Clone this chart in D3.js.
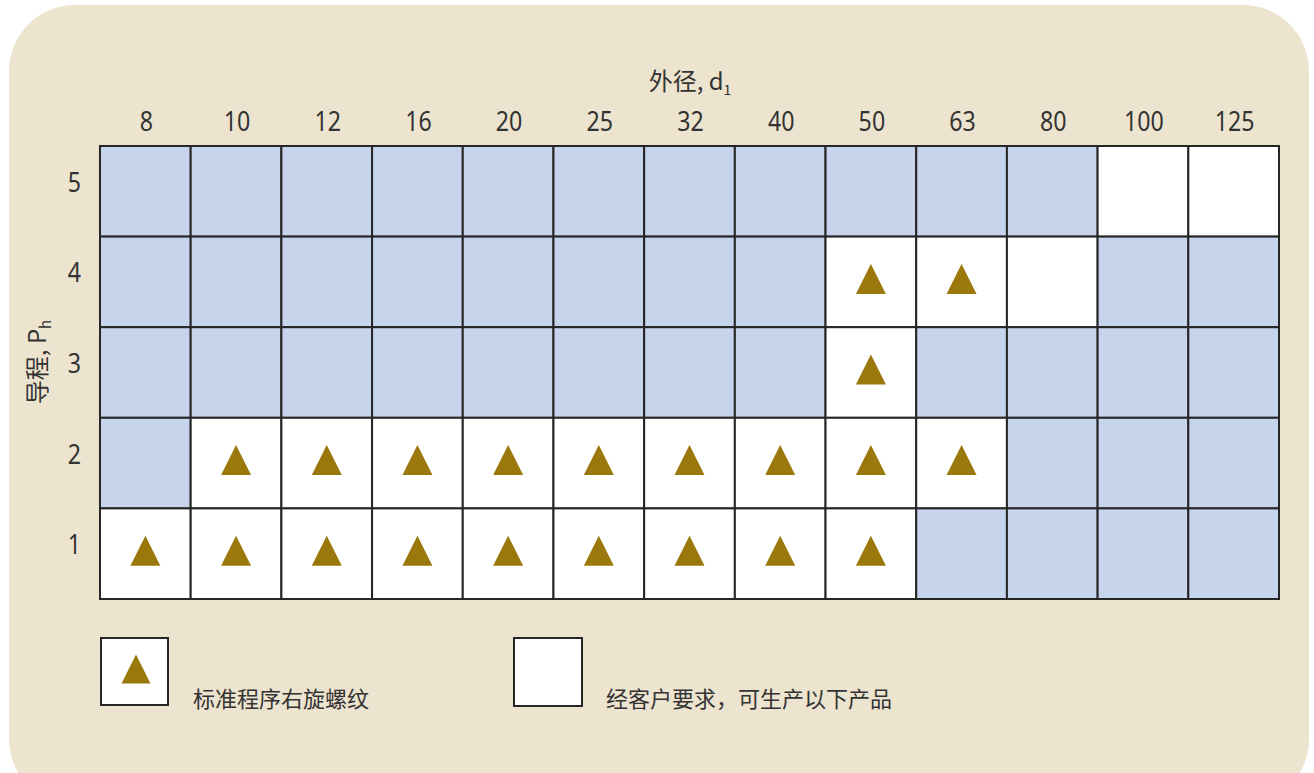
<!DOCTYPE html>
<html><head><meta charset="utf-8">
<script src="https://cdn.jsdelivr.net/npm/d3@7"></script>
<style>body{margin:0;background:#fff;}svg{display:block;}text{font-family:"Noto Sans CJK SC","Noto Sans",sans-serif;fill:#333;}</style>
</head><body>
<svg id="c" width="1314" height="773"></svg>
<script>
const diameters = ["8","10","12","16","20","25","32","40","50","63","80","100","125"];
const leads = ["5","4","3","2","1"];
// availability per lead row (left to right by diameter): 0 = blue (not available), 1 = on request (white), 2 = standard (white + triangle)
const row5 = [0,0,0,0,0,0,0,0,0,0,0,1,1];
const row4 = [0,0,0,0,0,0,0,0,2,2,1,0,0];
const row3 = [0,0,0,0,0,0,0,0,2,0,0,0,0];
const row2 = [0,2,2,2,2,2,2,2,2,2,0,0,0];
const row1 = [2,2,2,2,2,2,2,2,2,0,0,0,0];
const rows = {"5":row5,"4":row4,"3":row3,"2":row2,"1":row1};
const xTitle = "外径, d";
const yTitle = "导程, P";
const legendLabels = ["标准程序右旋螺纹","经客户要求，可生产以下产品"];

const NUMFONT = "'Noto Sans','DejaVu Sans',sans-serif";
const svg = d3.select("#c");
svg.append("rect").attr("x",9).attr("y",5).attr("width",1300).attr("height",800).attr("rx",66).attr("fill","#ede4cf");

const x = d3.scaleBand().domain(diameters).range([100,1279]);
const y = d3.scaleBand().domain(leads).range([146,599]);

const cells = [];
leads.forEach(l => diameters.forEach((d,i) => cells.push({d, l, v: rows[l][i]})));

const g = svg.append("g");
g.selectAll("rect.cell").data(cells).join("rect").attr("class","cell")
  .attr("x", c => x(c.d)).attr("y", c => y(c.l))
  .attr("width", x.bandwidth()).attr("height", y.bandwidth())
  .attr("fill", c => c.v === 0 ? "#c6d4ec" : "#ffffff")
  .attr("stroke","#262626").attr("stroke-width",2);

const tri = (cx, cy, s) => `M${cx},${cy - s/2}L${cx + s/2},${cy + s/2}L${cx - s/2},${cy + s/2}Z`;
g.selectAll("path.tri").data(cells.filter(c => c.v === 2)).join("path").attr("class","tri")
  .attr("d", c => tri(x(c.d) + x.bandwidth()/2, y(c.l) + y.bandwidth()/2 - 3, 30))
  .attr("fill","#9a780b");

// top axis
const xa = svg.append("g").attr("transform","translate(0,146)").call(d3.axisTop(x).tickSize(0).tickPadding(15));
xa.select(".domain").remove();
xa.selectAll("text").style("font-size","27px").style("font-weight","normal").attr("fill","#333").style("font-family",NUMFONT)
  .attr("y",0).attr("transform","translate(1,-15) scale(0.86,1)");

const ya = svg.append("g").attr("transform","translate(100,0)").call(d3.axisLeft(y).tickSize(0).tickPadding(19));
ya.select(".domain").remove();
ya.selectAll("text").style("font-size","27px").style("font-weight","normal").attr("fill","#333").style("font-family",NUMFONT)
  .attr("x",0).attr("dy","0.02em").attr("transform","translate(-19,0) scale(0.86,1)");

const xt = svg.append("text").attr("x",690).attr("y",90).attr("text-anchor","middle").style("font-size","24px");
xt.append("tspan").text(xTitle);
xt.append("tspan").attr("dy",5).style("font-size","14px").text("1");

const yt = svg.append("text").attr("transform","translate(46,362) rotate(-90)").attr("text-anchor","middle").style("font-size","24px");
yt.append("tspan").text(yTitle);
yt.append("tspan").attr("dy",5).style("font-size","15px").text("h");

// legend
const lg = svg.append("g");
lg.append("rect").attr("x",101).attr("y",638).attr("width",67).attr("height",67).attr("fill","#fff").attr("stroke","#262626").attr("stroke-width",2);
lg.append("path").attr("d", tri(136, 669, 29)).attr("fill","#9a780b");
lg.append("text").attr("x",193).attr("y",707).style("font-size","22px").text(legendLabels[0]);
lg.append("rect").attr("x",514).attr("y",638).attr("width",68).attr("height",68).attr("fill","#fff").attr("stroke","#262626").attr("stroke-width",2);
lg.append("text").attr("x",606).attr("y",707).style("font-size","22px").text(legendLabels[1]);
</script>
</body></html>
